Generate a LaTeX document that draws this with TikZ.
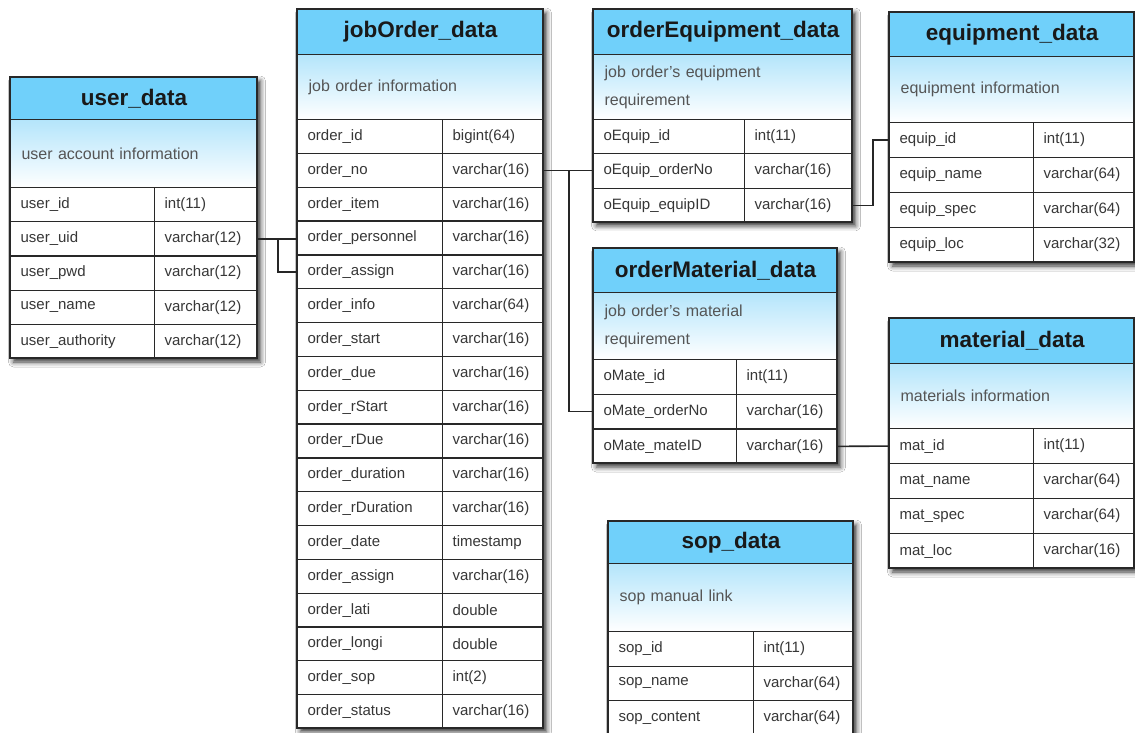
\documentclass[tikz,border=0pt]{standalone}
\usepackage{fontspec}
\setmainfont{Liberation Sans}
\usetikzlibrary{calc,shadows.blur}

\definecolor{headblue}{RGB}{112,208,250}
\definecolor{descblue}{RGB}{180,229,251}
\definecolor{gridline}{RGB}{40,40,40}
\definecolor{celltext}{RGB}{55,55,55}
\definecolor{desctext}{RGB}{85,85,85}

\tikzset{
  tabframe/.style={fill=white, blur shadow={shadow xshift=3.5pt, shadow yshift=-4pt, shadow blur radius=5pt, shadow opacity=80}},
  tabborder/.style={draw=gridline, line width=1.7pt},
  tabhead/.style={draw=gridline, line width=1.2pt, fill=headblue, anchor=north west, inner sep=0pt,
    font=\fontsize{22.5}{26}\selectfont\bfseries, text=black!90},
  tabdesc/.style={draw=gridline, line width=1.2pt, top color=descblue, bottom color=white, anchor=north west,
    inner xsep=11pt, inner ysep=0pt, align=left, font=\fontsize{16}{28}\selectfont, text=desctext},
  tabcell/.style={draw=gridline, line width=1.2pt, fill=white, anchor=north west,
    inner xsep=10pt, inner ysep=0pt, align=left, font=\fontsize{15}{18}\selectfont, text=celltext},
  link/.style={draw=black!85, line width=1.6pt},
}

% table frame: id, left, right, top, header bottom, description bottom, column divider, row height, rows
\newcommand{\erdtable}[9]{%
  \def\eId{#1}\def\eL{#2}\def\eR{#3}\def\eT{#4}\def\eH{#5}\def\eD{#6}\def\eC{#7}\def\eRh{#8}%
  \pgfmathsetmacro\eB{#6+#9*#8}%
  \pgfmathsetmacro\eW{#3-#2}%
  \pgfmathsetmacro\eTW{#3-#2-22}%
  \pgfmathsetmacro\eNW{#7-#2}%
  \pgfmathsetmacro\eNTW{#7-#2-20}%
  \pgfmathsetmacro\eTyW{#3-#7}%
  \pgfmathsetmacro\eTyTW{#3-#7-20}%
  \pgfmathsetmacro\eHh{#5-#4}%
  \pgfmathsetmacro\eDh{#6-#5}%
  \path[tabframe] (\eL,\eT) rectangle (\eR,\eB);
}
% title bar and description band
\newcommand{\erdhead}[2]{%
  \node[tabhead, minimum width=\eW pt, minimum height=\eHh pt] (\eId-head) at (\eL,\eT) {#1};
  \node[tabdesc, minimum width=\eW pt, text width=\eTW pt, minimum height=\eDh pt] (\eId-desc) at (\eL,\eH) {#2};
}
% field rows: name/type pairs
\newcommand{\erdrows}[1]{%
  \foreach \fn/\ft [count=\i] in {#1} {%
    \pgfmathsetmacro\rowy{\eD+(\i-1)*\eRh}%
    \node[tabcell, minimum width=\eNW pt, text width=\eNTW pt, minimum height=\eRh pt] (\eId-r\i-n) at (\eL,\rowy) {\fn};
    \node[tabcell, minimum width=\eTyW pt, text width=\eTyTW pt, minimum height=\eRh pt] (\eId-r\i-t) at (\eC,\rowy) {\ft};
  }%
  \draw[tabborder] (\eL,\eT) rectangle (\eR,\eB);
}

\begin{document}
\begin{tikzpicture}[x=1pt,y=-1pt]
\useasboundingbox (0,0) rectangle (1135,733);
\clip (0,0) rectangle (1135,733);
\fill[white] (0,0) rectangle (1135,733);

% user_data
\erdtable{user}{10}{257}{77}{119}{187}{154}{34.2}{5}
\erdhead{user\_data}{user account information}
\erdrows{user\_id/int(11), user\_uid/varchar(12), user\_pwd/varchar(12), user\_name/varchar(12), user\_authority/varchar(12)}

% jobOrder_data
\erdtable{job}{297}{543}{9}{54}{119}{442}{33.83}{18}
\erdhead{jobOrder\_data}{job order information}
\erdrows{order\_id/bigint(64), order\_no/varchar(16), order\_item/varchar(16), order\_personnel/varchar(16),
  order\_assign/varchar(16), order\_info/varchar(64), order\_start/varchar(16), order\_due/varchar(16),
  order\_rStart/varchar(16), order\_rDue/varchar(16), order\_duration/varchar(16), order\_rDuration/varchar(16),
  order\_date/timestamp, order\_assign/varchar(16), order\_lati/double, order\_longi/double,
  order\_sop/int(2), order\_status/varchar(16)}

% orderEquipment_data
\erdtable{oeq}{593}{852}{9}{54}{119}{744}{34.3}{3}
\erdhead{orderEquipment\_data}{job order's equipment\\requirement}
\erdrows{oEquip\_id/int(11), oEquip\_orderNo/varchar(16), oEquip\_equipID/varchar(16)}

% equipment_data
\erdtable{eq}{889}{1134}{12}{56}{122}{1033}{35}{4}
\erdhead{equipment\_data}{equipment information}
\erdrows{equip\_id/int(11), equip\_name/varchar(64), equip\_spec/varchar(64), equip\_loc/varchar(32)}

% orderMaterial_data
\erdtable{omat}{593}{837}{248}{292}{359}{736}{34.7}{3}
\erdhead{orderMaterial\_data}{job order's material\\requirement}
\erdrows{oMate\_id/int(11), oMate\_orderNo/varchar(16), oMate\_mateID/varchar(16)}

% material_data
\erdtable{mat}{889}{1134}{318}{363}{428}{1033}{35}{4}
\erdhead{material\_data}{materials information}
\erdrows{mat\_id/int(11), mat\_name/varchar(64), mat\_spec/varchar(64), mat\_loc/varchar(16)}

% sop_data
\erdtable{sop}{608}{853}{521}{563}{631}{753}{34.5}{3}
\erdhead{sop\_data}{sop manual link}
\erdrows{sop\_id/int(11), sop\_name/varchar(64), sop\_content/varchar(64)}

% relations
\coordinate (uj) at ($(user-r2-t.east)+(20,0)$);
\draw[link] (user-r2-t.east) -- (user-r2-t.east -| job-r4-n.west);
\draw[link] (uj) |- (job-r5-n.west);

\coordinate (jo) at ($(job-r2-t.east)+(25,0)$);
\draw[link] (job-r2-t.east) -- (job-r2-t.east -| oeq-r2-n.west);
\draw[link] (jo) |- (omat-r2-n.west);

\coordinate (ee) at ($(oeq-r3-t.east)+(20,0)$);
\draw[link] (oeq-r3-t.east) -- (ee) |- (eq-r1-n.west);

\draw[link] (omat-r3-t.east) -- (mat-r1-n.west);
\end{tikzpicture}
\end{document}
